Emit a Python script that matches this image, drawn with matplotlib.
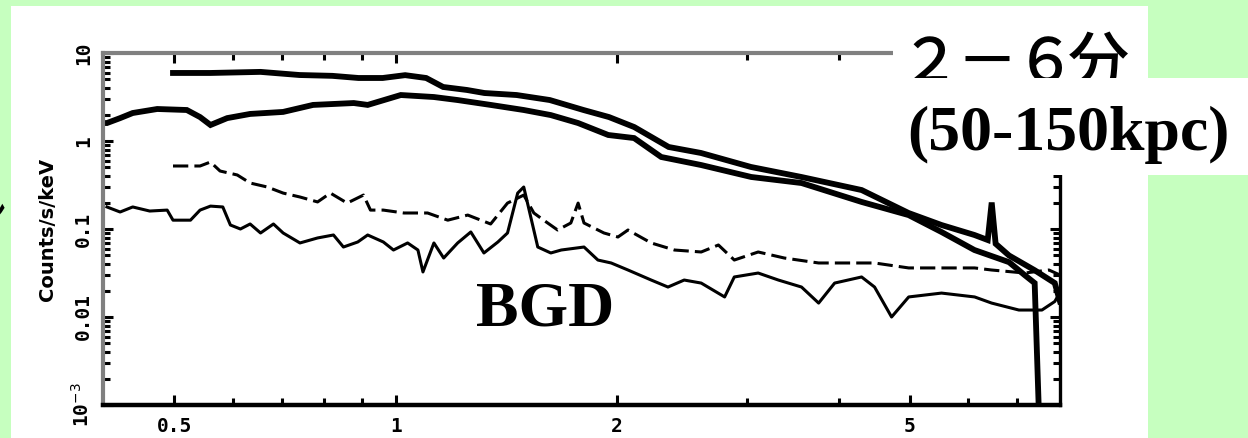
import matplotlib
matplotlib.use('Agg')
import matplotlib.pyplot as plt
from matplotlib.patches import Rectangle

# source spectrum, detector 1 (upper at low energy)
energy_a = [0.498, 0.56, 0.655, 0.74, 0.82, 0.89, 0.96, 1.03, 1.10, 1.16, 1.25, 1.32,
            1.46, 1.62, 1.80, 1.95, 2.11, 2.35, 2.60, 3.04, 3.56, 4.30, 4.98, 5.52,
            6.12, 6.38, 6.46, 6.54, 6.82, 7.39, 7.87, 8.0]
rate_a = [5.93, 5.93, 6.1, 5.62, 5.5, 5.2, 5.2, 5.6, 5.2, 4.11, 3.8, 3.51,
          3.33, 2.92, 2.25, 1.87, 1.44, 0.855, 0.731, 0.507, 0.39, 0.277, 0.152, 0.111,
          0.0855, 0.075, 0.2, 0.068, 0.05, 0.034, 0.0243, 0.015]

# source spectrum, detector 2
energy_b = [0.400, 0.405, 0.422, 0.439, 0.474, 0.52, 0.542, 0.56, 0.59, 0.634, 0.703,
            0.772, 0.877, 0.916, 1.016, 1.127, 1.214, 1.346, 1.493, 1.625, 1.77, 1.945,
            2.109, 2.296, 2.602, 3.043, 3.562, 4.299, 4.98, 5.52, 6.12, 6.82, 7.16,
            7.39, 7.48]
rate_b = [1.60, 1.60, 1.82, 2.08, 2.31, 2.25, 1.87, 1.52, 1.82, 2.03, 2.14,
          2.57, 2.70, 2.57, 3.33, 3.16, 2.92, 2.57, 2.25, 1.97, 1.60, 1.17,
          1.08, 0.658, 0.533, 0.39, 0.333, 0.203, 0.144, 0.0925, 0.0577, 0.042, 0.03,
          0.0243, 0.0011]

# background, detector 1
energy_bgd1 = [0.498, 0.542, 0.56, 0.577, 0.609, 0.634, 0.669, 0.703, 0.741, 0.783,
               0.815, 0.859, 0.904, 0.924, 0.962, 1.026, 1.105, 1.177, 1.253, 1.346,
               1.419, 1.493, 1.541, 1.589, 1.66, 1.73, 1.77, 1.803, 1.919, 2.005,
               2.069, 2.225, 2.393, 2.602, 2.746, 2.886, 3.11, 3.375, 3.758, 4.299,
               4.477, 4.982, 5.521, 6.124, 6.458, 7.164, 7.727, 8.0]
rate_bgd1 = [0.52, 0.52, 0.577, 0.456, 0.411, 0.333, 0.30, 0.256, 0.231, 0.203,
             0.256, 0.197, 0.243, 0.164, 0.164, 0.152, 0.152, 0.126, 0.144, 0.114,
             0.197, 0.243, 0.152, 0.126, 0.0974, 0.117, 0.197, 0.117, 0.0901, 0.0811,
             0.0974, 0.0694, 0.0577, 0.0548, 0.0658, 0.0444, 0.0548, 0.0468, 0.0411, 0.0411,
             0.0411, 0.0361, 0.0361, 0.0361, 0.0342, 0.0316, 0.0342, 0.03]

# background, detector 2
energy_bgd2 = [0.405, 0.422, 0.439, 0.463, 0.489, 0.498, 0.526, 0.542, 0.56, 0.582,
               0.596, 0.615, 0.634, 0.655, 0.682, 0.703, 0.741, 0.783, 0.823, 0.849,
               0.888, 0.916, 0.962, 0.993, 1.038, 1.072, 1.089, 1.127, 1.162, 1.214,
               1.265, 1.318, 1.377, 1.419, 1.465, 1.493, 1.56, 1.625, 1.679, 1.803,
               1.883, 1.963, 2.069, 2.225, 2.345, 2.467, 2.602, 2.8, 2.886, 3.11,
               3.313, 3.562, 3.758, 3.951, 4.299, 4.477, 4.722, 4.982, 5.521, 6.124,
               6.458, 7.034, 7.56, 7.87, 8.0]
rate_bgd2 = [0.178, 0.156, 0.178, 0.160, 0.164, 0.126, 0.126, 0.164, 0.182, 0.178,
             0.111, 0.100, 0.114, 0.0901, 0.114, 0.0901, 0.0694, 0.0791, 0.0855, 0.0624,
             0.0712, 0.0855, 0.0712, 0.0577, 0.0694, 0.0577, 0.0325, 0.0694, 0.0468, 0.0694,
             0.0925, 0.0534, 0.0712, 0.0901, 0.256, 0.30, 0.0624, 0.0534, 0.0577, 0.0624,
             0.0444, 0.0411, 0.0342, 0.0263, 0.0219, 0.0263, 0.0243, 0.0169, 0.0285, 0.0316,
             0.0263, 0.0219, 0.0144, 0.0243, 0.0285, 0.0219, 0.0100, 0.0169, 0.0187, 0.0169,
             0.0144, 0.0120, 0.0120, 0.015, 0.019]

x_major = [0.5, 1, 2, 5]
x_major_labels = ['0.5', '1', '2', '5']
x_minor = [0.6, 0.7, 0.8, 0.9, 3, 4, 6, 7]
y_major = [1e-3, 1e-2, 1e-1, 1, 10]
y_major_labels = ['10$^{-3}$', '0.01', '0.1', '1', '10']

W, H = 1248, 438
GREEN = '#c6ffbf'

fig = plt.figure(figsize=(W / 100, H / 100), dpi=100)
fig.patch.set_facecolor(GREEN)


def white_box(x0, y0, x1, y1, z):
    # box given in pixels from the top-left corner
    fig.patches.append(Rectangle((x0 / W, 1 - y1 / H), (x1 - x0) / W, (y1 - y0) / H,
                                 transform=fig.transFigure, facecolor='white',
                                 edgecolor='none', zorder=z))


white_box(11, 6, 1148, H, -1)

ax = fig.add_axes([103 / W, 1 - 405 / H, (1060 - 103) / W, (405 - 53) / H])
ax.set_xscale('log')
ax.set_yscale('log')

ax.plot(energy_a, rate_a, color='black', lw=4.2, solid_joinstyle='miter')
ax.plot(energy_b, rate_b, color='black', lw=4.2, solid_joinstyle='miter')
ax.plot(energy_bgd1, rate_bgd1, color='black', lw=2.2, dashes=(5, 2))
ax.plot(energy_bgd2, rate_bgd2, color='black', lw=2.2)

ax.set_xlim(0.4, 8.0)
ax.set_ylim(1e-3, 10)

ax.set_xticks(x_major)
ax.set_xticklabels(x_major_labels)
ax.set_xticks(x_minor, minor=True)
ax.set_xticklabels([], minor=True)
ax.set_yticks(y_major)
ax.set_yticklabels(y_major_labels, rotation=90, va='center')
ax.yaxis.set_minor_formatter(matplotlib.ticker.NullFormatter())

for lab in ax.get_xticklabels() + ax.get_yticklabels():
    lab.set_fontfamily('DejaVu Sans Mono')
    lab.set_fontweight('bold')
    lab.set_fontsize(14)

ax.tick_params(which='both', direction='in', top=True, right=True, color='black')
ax.tick_params(which='major', length=7, width=2.2)
ax.tick_params(which='minor', length=5, width=2.2)
ax.tick_params(axis='x', pad=9)
ax.tick_params(axis='y', pad=7)

ax.spines['left'].set_color('#808080')
ax.spines['top'].set_color('#808080')
ax.spines['left'].set_linewidth(3)
ax.spines['top'].set_linewidth(3)
ax.spines['bottom'].set_linewidth(3.2)
ax.spines['right'].set_linewidth(2.4)

ax.set_ylabel('Counts/s/keV', fontsize=14, fontweight='bold', labelpad=10)

# boxes that cover the upper-right corner of the plot
white_box(893, 6, 1148, 78, 2)
cjk = ['Noto Sans CJK JP', 'DejaVu Sans']
for ch, xc in zip(['２', '－', '６', '分'], [930, 987, 1045, 1098]):
    fig.text(xc / W, 1 - 82 / H, ch, fontsize=44, family=cjk, fontweight='medium',
             ha='center', va='baseline', zorder=3)
white_box(893, 78, W, 175, 4)
fig.text(1068 / W, 1 - 150 / H, '(50-150kpc)', fontsize=46, family='Liberation Serif',
         fontweight='bold', ha='center', va='baseline', zorder=5)

fig.text(545 / W, 1 - 325 / H, 'BGD', fontsize=46, family='Liberation Serif',
         fontweight='bold', ha='center', va='baseline', zorder=5)

# piece of a character cut off at the left edge of the slide
fig.text(-16 / W, 1 - 218 / H, 'ン', fontsize=34, family=cjk, ha='center',
         va='center', zorder=5)

fig.savefig('out.png', dpi=100, facecolor=GREEN)
